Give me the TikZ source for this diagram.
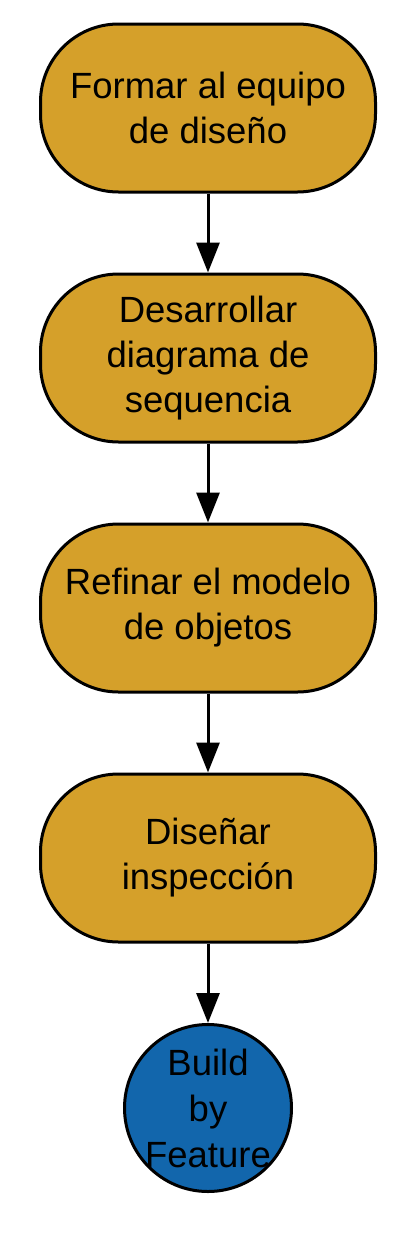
\documentclass[tikz,border=0pt]{standalone}
\usepackage{fontspec}
\setmainfont{Liberation Sans}
\usetikzlibrary{arrows.meta}
\definecolor{gold}{RGB}{213,160,42}
\definecolor{fblue}{RGB}{18,102,172}
\begin{document}
\begin{tikzpicture}[x=1pt,y=1pt,
  stepbox/.style={draw=black, line width=3pt, fill=gold, rounded corners=78pt,
    minimum width=335pt, minimum height=168pt, align=center,
    font=\fontsize{36.5}{45}\selectfont, inner sep=0pt},
  endcirc/.style={draw=black, line width=3pt, fill=fblue, circle,
    minimum size=167pt, align=center, font=\fontsize{36.5}{46}\selectfont, inner sep=-20pt},
  conn/.style={line width=3pt, -{Triangle[width=23pt,length=30pt]}}]
\useasboundingbox (0,0) rectangle (403,-1250);
\node[stepbox] (a) at (208,-108) {Formar al equipo\\de diseño};
\node[stepbox] (b) at (208,-358) {Desarrollar\\diagrama de\\sequencia};
\node[stepbox] (c) at (208,-608) {Refinar el modelo\\de objetos};
\node[stepbox] (d) at (208,-858) {Diseñar\\inspección};
\node[endcirc] (e) at (208,-1108) {Build\\by\\Feature};
\draw[conn] (a) -- (b);
\draw[conn] (b) -- (c);
\draw[conn] (c) -- (d);
\draw[conn] (d) -- (e);
\end{tikzpicture}
\end{document}
